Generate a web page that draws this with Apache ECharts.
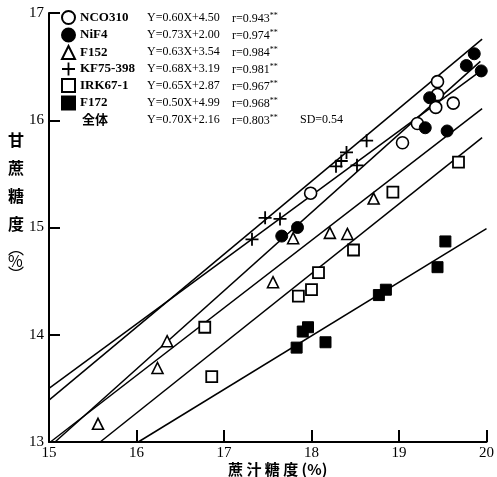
<!DOCTYPE html>
<html>
<head>
<meta charset="utf-8">
<script src="https://cdn.jsdelivr.net/npm/echarts@6/dist/echarts.min.js"></script>
<style>
html,body{margin:0;padding:0;background:#fff;}
#main{width:497px;height:477px;}
</style>
</head>
<body>
<div id="main"></div>
<script>
// 品種名
var names = ['NCO310', 'NiF4', 'F152', 'KF75-398', 'IRK67-1', 'F172'];

// 各品種のデータ [蔗汁糖度, 甘蔗糖度]
var nco310 = [[17.99, 15.32], [19.04, 15.79], [19.21, 15.97], [19.42, 16.12], [19.44, 16.24], [19.44, 16.36], [19.62, 16.16]];
var nif4 = [[17.66, 14.92], [17.84, 15.0], [19.30, 15.93], [19.35, 16.21], [19.55, 15.9], [19.77, 16.51], [19.86, 16.62], [19.94, 16.46]];
var f152 = [[15.56, 13.17], [16.24, 13.69], [16.35, 13.94], [17.56, 14.49], [17.79, 14.9], [18.21, 14.95], [18.41, 14.94], [18.71, 15.27]];
var kf75 = [[17.32, 14.89], [17.47, 15.09], [17.64, 15.08], [18.28, 15.57], [18.34, 15.62], [18.40, 15.70], [18.52, 15.58], [18.63, 15.81]];
var irk67 = [[16.78, 14.07], [16.86, 13.61], [17.85, 14.36], [18.0, 14.42], [18.08, 14.58], [18.48, 14.79], [18.93, 15.33], [19.68, 15.61]];
var f172 = [[17.83, 13.88], [17.90, 14.03], [17.96, 14.07], [18.16, 13.93], [18.77, 14.37], [18.85, 14.42], [19.44, 14.63], [19.53, 14.87]];

// 回帰式
var slopes = [0.60, 0.73, 0.63, 0.68, 0.65, 0.50];
var intercepts = [4.50, 2.00, 3.54, 3.19, 2.87, 4.99];
var lineEnd = [19.9, 19.93, 19.95, 19.95, 19.95, 20];
var equations = ['Y=0.60X+4.50', 'Y=0.73X+2.00', 'Y=0.63X+3.54', 'Y=0.68X+3.19', 'Y=0.65X+2.87', 'Y=0.50X+4.99', 'Y=0.70X+2.16'];
var rValues = ['0.943', '0.974', '0.984', '0.981', '0.967', '0.968', '0.803'];

var allData = [nco310, nif4, f152, kf75, irk67, f172];

var plusPath = 'path://M4.3,0h1.4v4.3h4.3v1.4h-4.3v4.3h-1.4v-4.3h-4.3v-1.4h4.3z';
var symbols = ['circle', 'circle', 'triangle', plusPath, 'rect', 'rect'];
var sizes = [12, 12, 11, 13, 11, 11];
var fills = ['#fff', '#000', '#fff', '#000', '#fff', '#000'];
var borders = [1.6, 1, 1.6, 0, 1.8, 1];

var chart = echarts.init(document.getElementById('main'));

var series = [];
// 回帰直線
for (var i = 0; i < 6; i++) {
  var x0 = Math.max(15, (13 - intercepts[i]) / slopes[i]);
  var x1 = lineEnd[i];
  series.push({
    type: 'line',
    data: [[x0, slopes[i] * x0 + intercepts[i]], [x1, slopes[i] * x1 + intercepts[i]]],
    symbol: 'none',
    lineStyle: {color: '#000', width: 1.5},
    silent: true,
    z: 1
  });
}
// 散布点
for (var j = 0; j < 6; j++) {
  series.push({
    name: names[j],
    type: 'scatter',
    data: allData[j],
    symbol: symbols[j],
    symbolSize: sizes[j],
    itemStyle: {color: fills[j], borderColor: '#000', borderWidth: borders[j], opacity: 1},
    z: 3
  });
}

var graphics = [];
for (var k = 0; k < 7; k++) {
  var yy = 18 + k * 17;
  graphics.push({
    type: 'text', left: 147, top: yy - 6,
    style: {text: equations[k], font: '12px "Liberation Serif"', fill: '#000'}
  });
  graphics.push({
    type: 'text', left: 232, top: yy - 6,
    style: {
      text: '{a|r=' + rValues[k] + '}{s|**}',
      rich: {
        a: {font: '12px "Liberation Serif"', fill: '#000'},
        s: {font: '8px "Liberation Serif"', fill: '#000', verticalAlign: 'top', padding: [0, 0, 6, 0]}
      }
    }
  });
}
graphics.push({
  type: 'text', left: 82, top: 18 + 6 * 17 - 7,
  style: {text: '全体', font: 'bold 13px "Noto Sans CJK JP"', fill: '#000'}
});
graphics.push({
  type: 'text', left: 300, top: 18 + 6 * 17 - 6,
  style: {text: 'SD=0.54', font: '12px "Liberation Serif"', fill: '#000'}
});
// 縦軸タイトル
graphics.push({
  type: 'text', left: 8, top: 126,
  style: {text: '甘\n蔗\n糖\n度', font: 'bold 16px "Noto Sans CJK JP"', lineHeight: 28, fill: '#000'}
});
graphics.push({
  type: 'text', left: 8, top: 240,
  style: {text: '︵\n%\n︶', font: '16px "Noto Sans CJK JP"', lineHeight: 13, fill: '#000'}
});
// 横軸タイトル
graphics.push({
  type: 'text', left: 228, top: 462,
  style: {text: '蔗 汁 糖 度 (%)', font: 'bold 15px "Noto Sans CJK JP"', fill: '#000'}
});

chart.setOption({
  backgroundColor: '#fff',
  animation: false,
  grid: {left: 49, right: 10, top: 13, bottom: 35, containLabel: false},
  legend: {
    data: names,
    orient: 'vertical',
    left: 61,
    top: 10,
    padding: 0,
    itemWidth: 13,
    itemHeight: 13,
    itemGap: 2.5,
    textStyle: {fontFamily: 'Liberation Serif', fontSize: 13, fontWeight: 'bold', color: '#000'}
  },
  xAxis: {
    type: 'value', min: 15, max: 20, interval: 1,
    axisLine: {lineStyle: {color: '#000', width: 2}},
    axisTick: {inside: true, length: 12, lineStyle: {color: '#000', width: 2}},
    axisLabel: {fontFamily: 'Liberation Serif', fontSize: 15, color: '#000', margin: 4},
    splitLine: {show: false}
  },
  yAxis: {
    type: 'value', min: 13, max: 17, interval: 1,
    axisLine: {lineStyle: {color: '#000', width: 2}},
    axisTick: {inside: true, length: 11, lineStyle: {color: '#000', width: 2}},
    axisLabel: {fontFamily: 'Liberation Serif', fontSize: 15, color: '#000', margin: 5},
    splitLine: {show: false}
  },
  series: series,
  graphic: graphics
});
</script>
</body>
</html>
